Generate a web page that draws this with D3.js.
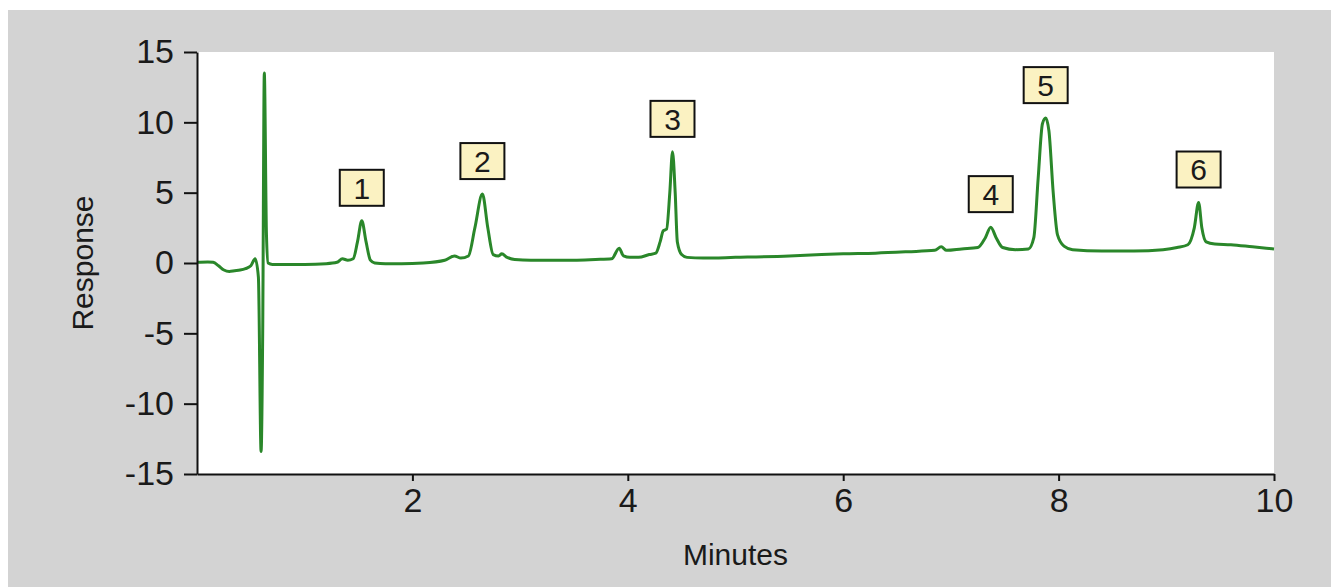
<!DOCTYPE html>
<html>
<head>
<meta charset="utf-8">
<script src="https://cdn.jsdelivr.net/npm/d3@7/dist/d3.min.js"></script>
<style>
  html, body { margin: 0; padding: 0; background: #ffffff; }
  svg { display: block; }
  text { font-family: "Liberation Sans", Arial, sans-serif; fill: #1a1a1a; }
</style>
</head>
<body>
<svg id="chart" width="1331" height="587"></svg>
<script>
// ---- data ----
const times = [
  0.00, 0.10, 0.15, 0.20, 0.25, 0.30, 0.35, 0.40, 0.45, 0.50, 0.54, 0.57, 0.595, 0.61, 0.625, 0.645, 0.66, 0.70,
  0.80, 1.00, 1.20, 1.30, 1.35, 1.40, 1.45, 1.49, 1.53, 1.57, 1.61, 1.65, 1.75, 1.90,
  2.10, 2.30, 2.39, 2.45, 2.52, 2.58, 2.65, 2.70, 2.75, 2.80, 2.83, 2.88, 2.95,
  3.10, 3.30, 3.50, 3.70, 3.85, 3.92, 3.96, 4.02, 4.10, 4.20, 4.26, 4.30, 4.33, 4.36, 4.39, 4.415, 4.44, 4.46, 4.50, 4.55, 4.70,
  5.00, 5.50, 5.80, 6.00, 6.30, 6.60, 6.85, 6.91, 6.96, 7.10, 7.25, 7.32, 7.37, 7.42, 7.48, 7.60,
  7.72, 7.77, 7.81, 7.85, 7.88, 7.91, 7.95, 7.99, 8.05, 8.13, 8.40, 8.70, 8.97,
  9.10, 9.20, 9.26, 9.30, 9.33, 9.37, 9.45, 9.60, 9.80, 10.00
];
const response = [
  0.05, 0.08, 0.05, -0.2, -0.5, -0.6, -0.55, -0.5, -0.4, -0.2, 0.3, -1.0, -13.4, -5.0, 13.5, 2.0, 0.0, -0.1,
  -0.1, -0.1, -0.05, 0.05, 0.3, 0.2, 0.3, 1.5, 3.0, 1.5, 0.2, 0.0, -0.05, -0.05,
  0.0, 0.2, 0.5, 0.35, 0.5, 2.5, 4.9, 2.5, 0.6, 0.5, 0.65, 0.4, 0.25,
  0.2, 0.2, 0.2, 0.25, 0.3, 1.05, 0.5, 0.4, 0.4, 0.6, 0.7, 1.5, 2.3, 2.4, 5.0, 7.9, 5.0, 1.5, 0.6, 0.4, 0.35,
  0.4, 0.5, 0.6, 0.65, 0.7, 0.8, 0.9, 1.15, 0.9, 1.0, 1.1, 1.8, 2.55, 1.8, 1.1, 0.95,
  1.0, 1.8, 6.0, 9.9, 10.3, 9.4, 5.0, 2.0, 1.2, 0.95, 0.85, 0.85, 0.95,
  1.1, 1.3, 2.5, 4.3, 2.5, 1.5, 1.35, 1.3, 1.15, 1.0
];
const peakLabels = ["1", "2", "3", "4", "5", "6"];
const peakTimes  = [1.53, 2.65, 4.415, 7.37, 7.88, 9.30];
const peakApex   = [3.0, 4.9, 7.9, 2.55, 10.3, 4.3];
const xTicks = [2, 4, 6, 8, 10];
const yTicks = [-15, -10, -5, 0, 5, 10, 15];
const xTitle = "Minutes";
const yTitle = "Response";

// ---- layout ----
const svg = d3.select("#chart");
const W = 1331, H = 587;
const plot = { left: 197, right: 1274, top: 52, bottom: 474 };

svg.append("rect").attr("x", 0).attr("y", 0).attr("width", W).attr("height", H).attr("fill", "#ffffff");
svg.append("rect").attr("x", 8).attr("y", 10).attr("width", W - 8).attr("height", H - 10).attr("fill", "#d3d3d3");
svg.append("rect").attr("x", plot.left).attr("y", plot.top)
  .attr("width", plot.right - plot.left).attr("height", plot.bottom - plot.top).attr("fill", "#ffffff");

const x = d3.scaleLinear().domain([0, 10]).range([plot.left, plot.right]);
const y = d3.scaleLinear().domain([-15, 15]).range([plot.bottom, plot.top]);

// trace
const pts = times.map((t, i) => [t, response[i]]);
const line = d3.line().x(d => x(d[0])).y(d => y(d[1])).curve(d3.curveMonotoneX);
svg.append("path").datum(pts)
  .attr("d", line)
  .attr("fill", "none")
  .attr("stroke", "#2a872a")
  .attr("stroke-width", 3)
  .attr("stroke-linejoin", "round");

// axes
const fmt = d => String(d);
const gx = svg.append("g").attr("transform", `translate(0,${plot.bottom})`)
  .call(d3.axisBottom(x).tickValues(xTicks).tickFormat(fmt).tickSize(7).tickSizeOuter(0).tickPadding(7));
const gy = svg.append("g").attr("transform", `translate(${plot.left},0)`)
  .call(d3.axisLeft(y).tickValues(yTicks).tickFormat(fmt).tickSize(13).tickSizeOuter(0).tickPadding(10));

[gx, gy].forEach(g => {
  g.select(".domain").attr("stroke", "#111").attr("stroke-width", 2);
  g.selectAll(".tick line").attr("stroke", "#111").attr("stroke-width", 2);
  g.selectAll(".tick text").attr("font-size", 34).attr("font-family", "'Liberation Sans', Arial, sans-serif").attr("fill", "#1a1a1a");
});

// titles
svg.append("text").attr("x", (plot.left + plot.right) / 2).attr("y", 565)
  .attr("text-anchor", "middle").attr("font-size", 30).text(xTitle);
svg.append("text").attr("transform", `translate(93,${(plot.top + plot.bottom) / 2}) rotate(-90)`)
  .attr("text-anchor", "middle").attr("font-size", 30).text(yTitle);

// peak labels
const boxW = 44, boxH = 36, gap = 15;
const lab = svg.append("g").selectAll("g").data(peakLabels).join("g")
  .attr("transform", (d, i) => `translate(${x(peakTimes[i])},${y(peakApex[i]) - gap})`);
lab.append("rect").attr("x", -boxW / 2).attr("y", -boxH).attr("width", boxW).attr("height", boxH)
  .attr("fill", "#fbf2c2").attr("stroke", "#111").attr("stroke-width", 2);
lab.append("text").attr("x", 0).attr("y", -boxH / 2).attr("dy", "0.36em")
  .attr("text-anchor", "middle").attr("font-size", 30).text(d => d);
</script>
</body>
</html>
